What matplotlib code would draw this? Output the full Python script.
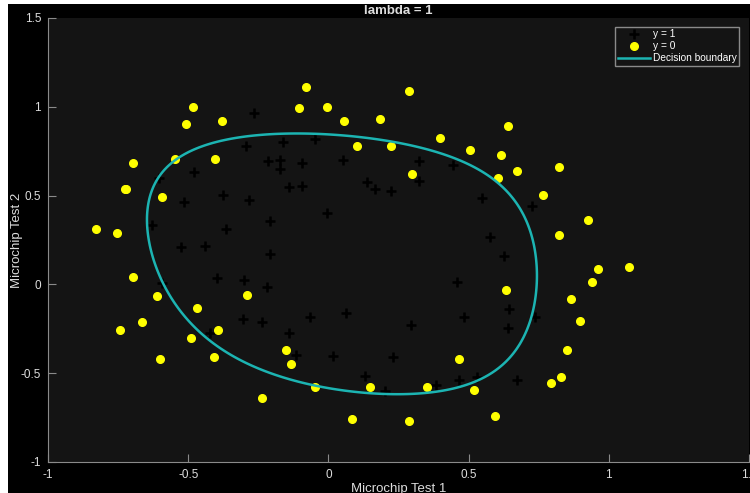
import numpy as np
import matplotlib
matplotlib.use("Agg")
import matplotlib.pyplot as plt
from matplotlib.patches import Rectangle

# microchip test data (ex2data2)
test1 = [0.051267, -0.092742, -0.21371, -0.375, -0.51325, -0.52477, -0.39804, -0.30588,
         0.016705, 0.13191, 0.38537, 0.52938, 0.63882, 0.73675, 0.54666, 0.322, 0.16647,
         -0.046659, -0.17339, -0.47869, -0.60541, -0.62846, -0.59389, -0.42108, -0.11578,
         0.20104, 0.46601, 0.67339, -0.13882, -0.29435, -0.26555, -0.16187, -0.17339,
         -0.28283, -0.36348, -0.30012, -0.23675, -0.06394, 0.062788, 0.22984, 0.2932,
         0.48329, 0.64459, 0.46025, 0.6273, 0.57546, 0.72523, 0.22408, 0.44297, 0.322,
         0.13767, -0.0063364, -0.092742, -0.20795, -0.20795, -0.43836, -0.21947, -0.13882,
         0.18376, 0.22408, 0.29896, 0.50634, 0.61578, 0.60426, 0.76555, 0.92684, 0.82316,
         0.96141, 0.93836, 0.86348, 0.89804, 0.85196, 0.82892, 0.79435, 0.59274, 0.51786,
         0.46601, 0.35081, 0.28744, 0.085829, 0.14919, -0.13306, -0.40956, -0.39228,
         -0.74366, -0.69758, -0.75518, -0.69758, -0.4038, -0.38076, -0.50749, -0.54781,
         0.10311, 0.057028, -0.10426, -0.081221, 0.28744, 0.39689, 0.63882, 0.82316,
         0.67339, 1.0709, -0.046659, -0.23675, -0.15035, -0.49021, -0.46717, -0.28859,
         -0.61118, -0.66302, -0.59965, -0.72638, -0.83007, -0.72062, -0.59389, -0.48445,
         -0.0063364, 0.63265]
test2 = [0.69956, 0.68494, 0.69225, 0.50219, 0.46564, 0.2098, 0.034357, -0.19225,
         -0.40424, -0.51389, -0.56506, -0.5212, -0.24342, -0.18494, 0.48757, 0.5826, 0.53874,
         0.81652, 0.69956, 0.63377, 0.59722, 0.33406, 0.005117, -0.27266, -0.39693,
         -0.60161, -0.53582, -0.53582, 0.54605, 0.77997, 0.96272, 0.8019, 0.64839,
         0.47295, 0.31213, 0.027047, -0.21418, -0.18494, -0.16301, -0.41155, -0.2288,
         -0.18494, -0.14108, 0.012427, 0.15863, 0.26827, 0.44371, 0.52412, 0.67032, 0.69225,
         0.57529, 0.39985, 0.55336, 0.35599, 0.17325, 0.21711, -0.016813, -0.27266,
         0.93348, 0.77997, 0.61915, 0.75804, 0.7288, 0.59722, 0.50219, 0.3633, 0.27558,
         0.085526, 0.012427, -0.082602, -0.20687, -0.36769, -0.5212, -0.55775, -0.7405, -0.5943,
         -0.41886, -0.57968, -0.76974, -0.75512, -0.57968, -0.4481, -0.41155, -0.25804,
         -0.25804, 0.041667, 0.2902, 0.68494, 0.70687, 0.91886, 0.90424, 0.70687,
         0.77997, 0.91886, 0.99196, 1.1089, 1.087, 0.82383, 0.88962, 0.66301,
         0.64108, 0.10015, -0.57968, -0.63816, -0.36769, -0.3019, -0.13377, -0.0621,
         -0.067982, -0.21418, -0.41886, 0.53874, 0.31213, 0.53874, 0.49488, 0.99927,
         0.99927, -0.030612]
accepted = [1] * 58 + [0] * 60

lam = 1.0
degree = 6

x1 = np.array(test1)
x2 = np.array(test2)
y = np.array(accepted, dtype=float)


def map_feature(a, b):
    a = np.atleast_1d(a)
    b = np.atleast_1d(b)
    cols = [np.ones_like(a)]
    for i in range(1, degree + 1):
        for j in range(i + 1):
            cols.append(a ** (i - j) * b ** j)
    return np.stack(cols, axis=-1)


# regularized logistic regression, Newton iterations
X = map_feature(x1, x2)
theta = np.zeros(X.shape[1])
reg = np.eye(X.shape[1]) * lam
reg[0, 0] = 0
m = len(y)
for _ in range(50):
    h = 1 / (1 + np.exp(-X @ theta))
    grad = (X.T @ (h - y) + reg @ theta) / m
    H = (X.T @ (X * (h * (1 - h))[:, None]) + reg) / m
    theta -= np.linalg.solve(H, grad)

u = np.linspace(-1, 1.5, 200)
v = np.linspace(-1, 1.5, 200)
U, V = np.meshgrid(u, v)
Z = map_feature(U.ravel(), V.ravel()) @ theta
Z = Z.reshape(U.shape)

plt.rcParams['font.family'] = ['Liberation Sans', 'DejaVu Sans']

fig = plt.figure(figsize=(7.5, 4.93), dpi=100, facecolor='white')
# black screenshot background with white strip at left/top
fig.patches.append(Rectangle((8 / 750, 0), 1, 1 - 4 / 493, transform=fig.transFigure,
                             facecolor='black', edgecolor='none', zorder=-10))
ax = fig.add_axes([48 / 750, 1 - 462 / 493, 701 / 750, 444 / 493])
ax.set_facecolor('#141414')

pos = y == 1
neg = y == 0
ax.plot(x1[pos], x2[pos], '+', color='black', markersize=7, markeredgewidth=1.8, label='y = 1')
ax.plot(x1[neg], x2[neg], 'o', color='#ffff00', markersize=5.5, markeredgecolor='#ffff00', label='y = 0')
ax.contour(U, V, Z, levels=[0], colors='#1cb4b2', linewidths=1.8)
ax.plot([], [], color='#1cb4b2', linewidth=1.8, label='Decision boundary')

ax.set_xlim(-1, 1.5)
ax.set_ylim(-1, 1.5)
ax.set_xticks([-1, -0.5, 0, 0.5, 1, 1.5])
ax.set_xticklabels(['-1', '-0.5', '0', '0.5', '1', '1.5'])
ax.set_yticks([-1, -0.5, 0, 0.5, 1, 1.5])
ax.set_yticklabels(['-1', '-0.5', '0', '0.5', '1', '1.5'])
for s in ['top', 'right']:
    ax.spines[s].set_visible(False)
for s in ['left', 'bottom']:
    ax.spines[s].set_color('#8a8a8a')
ax.tick_params(direction='in', colors='#8a8a8a', labelcolor='#dddddd', labelsize=8.5,
               length=6, width=0.8, pad=5)

ax.set_xlabel('Microchip Test 1', color='#dddddd', fontsize=9.5)
ax.set_ylabel('Microchip Test 2', color='#dddddd', fontsize=9.5)
ax.yaxis.set_label_coords(-25 / 701, 0.5)
ax.xaxis.set_label_coords(0.5, -21 / 444)
ax.set_title('lambda = 1', color='#dddddd', fontsize=9.5, fontweight='bold', pad=3)

leg = ax.legend(loc='upper right', bbox_to_anchor=(0.986, 0.980), fontsize=7.3,
                facecolor='#141414', edgecolor='#8a8a8a', framealpha=1, fancybox=False,
                handlelength=3.2, handletextpad=0.25, borderpad=0.25, labelspacing=0.2,
                borderaxespad=0)
for t in leg.get_texts():
    t.set_color('white')

fig.savefig('out.png', dpi=100, facecolor=fig.get_facecolor())
